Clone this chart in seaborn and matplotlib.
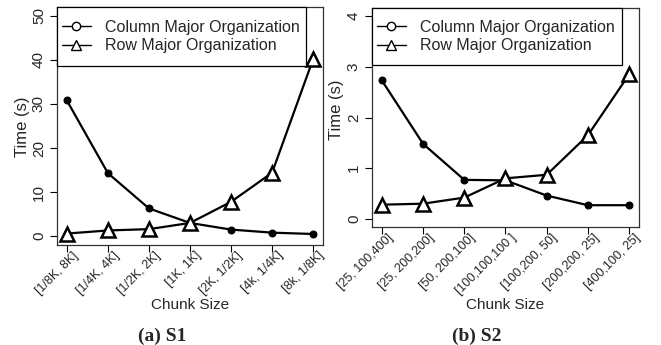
import matplotlib
matplotlib.use("Agg")
import matplotlib.pyplot as plt
import matplotlib.transforms as mtrans
from matplotlib.lines import Line2D
from matplotlib.patches import Rectangle
import seaborn as sns
import pandas as pd

# Chunk-size sweep timings for two datasets
s1_chunks = ["[1/8K, 8K]", "[1/4K, 4K]", "[1/2K, 2K]", "[1K, 1K]",
             "[2K, 1/2K]", "[4k, 1/4K]", "[8k, 1/8K]"]
s1_column = [30.8, 14.3, 6.3, 3.0, 1.5, 0.8, 0.5]
s1_row = [0.6, 1.3, 1.6, 3.0, 7.8, 14.4, 40.2]

s2_chunks = ["[25, 100,400]", "[25, 200,200]", "[50, 200,100]", "[100,100,100 ]",
             "[100,200, 50]", "[200,200, 25]", "[400,100, 25]"]
s2_column = [2.73, 1.48, 0.77, 0.76, 0.46, 0.27, 0.27]
s2_row = [0.28, 0.30, 0.42, 0.80, 0.87, 1.65, 2.85]

series_names = ["Column Major Organization", "Row Major Organization"]
captions = ["(a) S1", "(b) S2"]

sns.set_style("ticks")
plt.rcParams["font.family"] = ["Liberation Sans", "DejaVu Sans"]

W, H = 661, 345
DPI = 100
fig = plt.figure(figsize=(W / DPI, H / DPI), dpi=DPI)


def box(x0, y0, x1, y1):
    return [x0 / W, 1 - y1 / H, (x1 - x0) / W, (y1 - y0) / H]


panels = [
    dict(px=(57, 7, 323, 245), chunks=s1_chunks, col=s1_column, row=s1_row,
         ymax=50, yticks=[0, 10, 20, 30, 40, 50], cap_x=162, yl_x=22, yl_y=127,
         leg_right=306, leg_bottom=66),
    dict(px=(372, 8, 639, 227), chunks=s2_chunks, col=s2_column, row=s2_row,
         ymax=4, yticks=[0, 1, 2, 3, 4], cap_x=477, yl_x=337, yl_y=110,
         leg_right=622, leg_bottom=65),
]

# nudge rotated tick labels up and to the right
label_shift = mtrans.ScaledTranslation(5 / DPI, 8 / DPI, fig.dpi_scale_trans)

for p, cap in zip(panels, captions):
    x0, y0, x1, y1 = p["px"]
    ax = fig.add_axes(box(x0, y0, x1, y1))
    n = len(p["chunks"])
    df = pd.DataFrame({"pos": list(range(n)), "col": p["col"], "row": p["row"]})

    sns.lineplot(data=df, x="pos", y="col", ax=ax, color="black", lw=1.6,
                 marker="o", markersize=5, markeredgecolor="black",
                 markerfacecolor="black")
    sns.lineplot(data=df, x="pos", y="row", ax=ax, color="black", lw=1.6,
                 marker="^", markersize=10, markeredgewidth=1.8,
                 markeredgecolor="black", markerfacecolor="white")

    pad_x = 0.04 * (n - 1)
    ax.set_xlim(-pad_x, n - 1 + pad_x)
    ax.set_ylim(-0.04 * p["ymax"], 1.04 * p["ymax"])
    ax.set_xticks(range(n))
    ax.set_yticks(p["yticks"])
    ax.tick_params(axis="both", direction="out", length=5, width=0.8,
                   color="black", pad=3)
    ax.tick_params(axis="x", pad=4)
    ax.set_xticklabels(p["chunks"], rotation=45, ha="right",
                       rotation_mode="anchor", fontsize=9)
    ax.set_yticklabels([str(t) for t in p["yticks"]], rotation=90,
                       va="center", fontsize=11)
    for lbl in ax.get_xticklabels():
        lbl.set_transform(lbl.get_transform() + label_shift)
    for s in ax.spines.values():
        s.set_visible(True)
        s.set_color("#333333")
        s.set_linewidth(0.9)

    ax.set_xlabel("")
    ax.set_ylabel("")
    fig.text(((x0 + x1) / 2) / W, 1 - 305 / H, "Chunk Size", ha="center",
             va="center", fontsize=11)
    fig.text(p["yl_x"] / W, 1 - p["yl_y"] / H, "Time (s)", ha="center",
             va="center", rotation=90, fontsize=12)
    fig.text(p["cap_x"] / W, 1 - 336 / H, cap, ha="center", va="center",
             fontsize=14, fontweight="bold", family="Liberation Serif")

    # legend frame hugging the top-left corner of the plot box
    aw, ah = x1 - x0, y1 - y0
    frame = Rectangle((0, 1 - (p["leg_bottom"] - y0) / ah),
                      (p["leg_right"] - x0) / aw, (p["leg_bottom"] - y0) / ah,
                      transform=ax.transAxes, facecolor="white",
                      edgecolor="black", lw=0.9, zorder=4, clip_on=False)
    ax.add_patch(frame)

    handles = [
        Line2D([], [], color="black", lw=1.0, marker="o", markersize=6,
               markerfacecolor="white", markeredgecolor="black"),
        Line2D([], [], color="black", lw=1.0, marker="^", markersize=7,
               markerfacecolor="white", markeredgecolor="black"),
    ]
    mid_y = (p["leg_bottom"] + y0) / 2
    leg = ax.legend(handles, series_names, loc="center left",
                    bbox_to_anchor=(5 / aw, 1 - (mid_y - y0) / ah),
                    borderaxespad=0, borderpad=0, frameon=False,
                    fontsize=11.5, handlelength=1.8, handletextpad=0.9,
                    labelspacing=0.2)
    leg.set_zorder(5)

fig.savefig("out.png", dpi=DPI)
